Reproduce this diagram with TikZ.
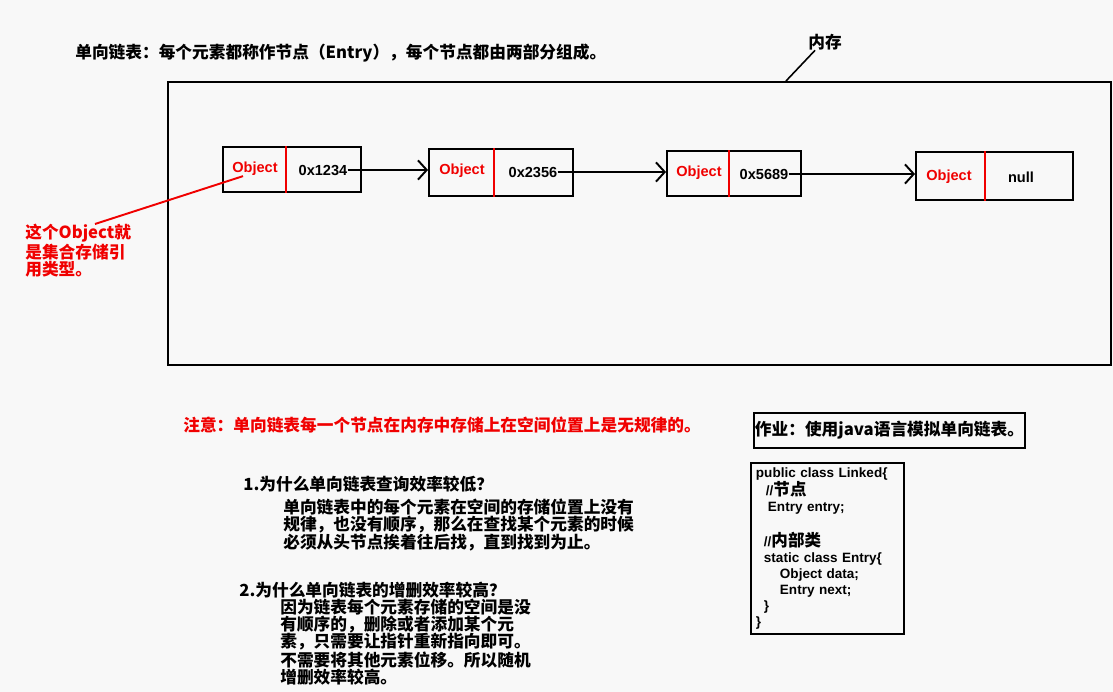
\documentclass[tikz,border=0pt]{standalone}
\usepackage{fontspec}
\setmainfont{Liberation Sans}
\newfontfamily\cjk{Noto Sans CJK SC}
\usepackage{tikz}
\usetikzlibrary{arrows.meta, positioning}
\definecolor{bgpaper}{RGB}{248,248,248}
\definecolor{myred}{RGB}{240,0,0}
\newcommand{\codecn}[1]{{\cjk\fontsize{9.4}{9.1}\selectfont #1}}
\tikzset{
  membox/.style={rectangle, draw=black, line width=1.1pt, inner sep=0pt},
  entrybox/.style={rectangle, draw=black, line width=1.1pt, inner sep=0pt},
  divider/.style={draw=myred, line width=1.1pt},
  objtext/.style={font=\bfseries\fontsize{8.3}{10}\selectfont, text=myred, inner sep=0pt},
  adrtext/.style={font=\bfseries\fontsize{8.3}{10}\selectfont, inner sep=0pt},
  cntext/.style={font=\cjk\bfseries\fontsize{9.5}{9.7}\selectfont, inner sep=0pt, align=left},
  rednote/.style={cntext, text=myred},
  codebox/.style={rectangle, draw=black, line width=1.1pt, inner xsep=0.1cm, inner ysep=0pt,
    text width=2.86cm, minimum height=3.42cm, align=left,
    font=\bfseries\fontsize{7.7}{9.1}\selectfont},
  ptrarrow/.style={-{Straight Barb[length=5pt, width=11pt]}, line width=1.1pt},
  redline/.style={draw=myred, line width=1.1pt},
  line/.style={line width=0.9pt}
}

\begin{document}
\begin{tikzpicture}[x=0.02cm, y=-0.02cm]
  \fill[bgpaper] (0,0) rectangle (1113,692);
  \useasboundingbox (0,0) rectangle (1113,692);

  \node[cntext, anchor=west] (title) at (75,53) {单向链表：每个元素都称作节点（Entry），每个节点都由两部分组成。};
  \node[cntext, anchor=west] (memlbl) at (808,42) {内存};
  \node[membox, minimum width=18.86cm, minimum height=5.66cm, anchor=north west] (mem) at (167,81) {};

  % entries
  \node[entrybox, minimum width=2.76cm, minimum height=0.9cm] (e1) at (292,169.5) {};
  \node[entrybox, minimum width=2.88cm, minimum height=0.94cm] (e2) at (501,172.5) {};
  \node[entrybox, minimum width=2.68cm, minimum height=0.9cm] (e3) at (734,173.5) {};
  \node[entrybox, minimum width=3.14cm, minimum height=0.96cm] (e4) at (994.5,176) {};
  \draw[divider] ([xshift=1.28cm]e1.north west) -- ([xshift=1.28cm]e1.south west);
  \draw[divider] ([xshift=1.32cm]e2.north west) -- ([xshift=1.32cm]e2.south west);
  \draw[divider] ([xshift=1.26cm]e3.north west) -- ([xshift=1.26cm]e3.south west);
  \draw[divider] ([xshift=1.40cm]e4.north west) -- ([xshift=1.40cm]e4.south west);
  \node[objtext] (obj1) at (255,169) {Object};
  \node[adrtext] (adr1) at (323,170) {0x1234};
  \node[objtext] (obj2) at (462,171) {Object};
  \node[adrtext] (adr2) at (533,172) {0x2356};
  \node[objtext] (obj3) at (699,173) {Object};
  \node[adrtext] (adr3) at (764,174) {0x5689};
  \node[objtext] (obj4) at (949,177) {Object};
  \node[adrtext] (adr4) at (1021,177) {null};

  \draw[ptrarrow] (adr1.east) -- (adr1.east -| e2.west);
  \draw[ptrarrow] (adr2.east) -- (adr2.east -| e3.west);
  \draw[ptrarrow] (adr3.east) -- (adr3.east -| e4.west);

  \coordinate (memtick) at (786,81);
  \draw[line] (memtick) -- ([xshift=-0.2cm]memlbl.south);

  \node[rednote, anchor=north west] (refnote) at (25,224) {这个Object就\\是集合存储引\\用类型。};
  \coordinate (reftail) at (95,224);
  \draw[redline] (reftail) -- ([xshift=-0.24cm]obj1.south);

  \node[rednote, anchor=west] (warn) at (183,425) {注意：单向链表每一个节点在内存中存储上在空间位置上是无规律的。};

  \node[cntext, anchor=west] (q1) at (243,484) {1.为什么单向链表查询效率较低？};
  \node[cntext, anchor=north west] (a1) at (283,499) {单向链表中的每个元素在空间的存储位置上没有\\规律，也没有顺序，那么在查找某个元素的时候\\必须从头节点挨着往后找，直到找到为止。};
  \node[cntext, anchor=west] (q2) at (239,590) {2.为什么单向链表的增删效率较高？};
  \node[cntext, anchor=north west] (a2) at (280,599) {因为链表每个元素存储的空间是没\\有顺序的，删除或者添加某个元\\素，只需要让指针重新指向即可。\\不需要将其他元素位移。所以随机\\增删效率较高。};

  \node[cntext, draw, line width=1.1pt, minimum width=5.42cm, minimum height=0.7cm, align=center] (hw) at (889.5,430.5) {作业：使用java语言模拟单向链表。};
  \node[codebox, anchor=north west] (code) at (750,462) {public class Linked\{\\
    \hspace*{0.2cm}//\codecn{节点}\\
    \hspace*{0.24cm}Entry entry;\\[9.1pt]
    \hspace*{0.16cm}//\codecn{内部类}\\
    \hspace*{0.16cm}static class Entry\{\\
    \hspace*{0.48cm}Object data;\\
    \hspace*{0.48cm}Entry next;\\
    \hspace*{0.16cm}\}\\
    \}};
\end{tikzpicture}
\end{document}
